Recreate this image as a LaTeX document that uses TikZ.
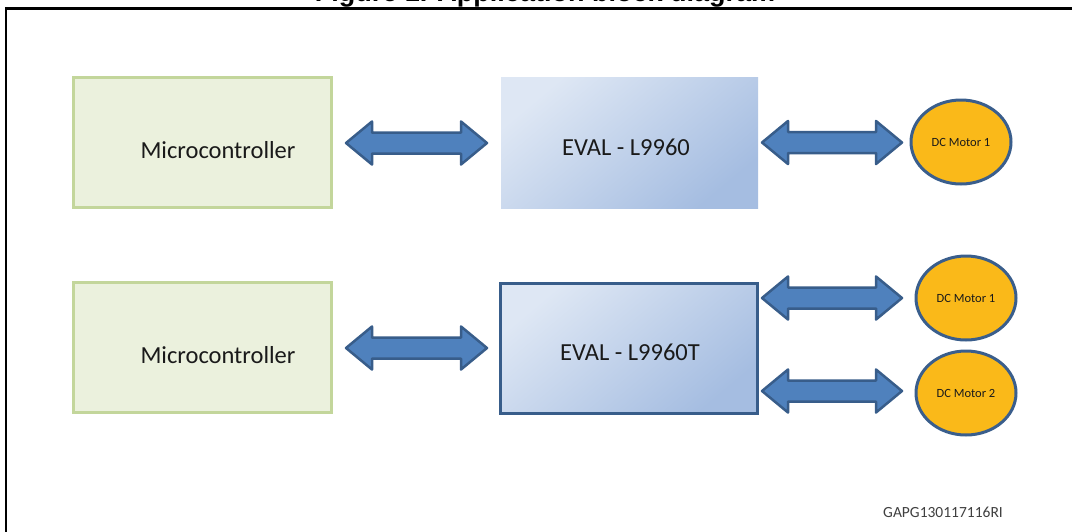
\documentclass[tikz,border=0pt]{standalone}
\usepackage{fontspec}
\setmainfont{Carlito}
\newfontfamily\arialfont{Liberation Sans}
\usetikzlibrary{calc,shapes.geometric}
\definecolor{mcfill}{RGB}{235,241,221}
\definecolor{mcborder}{RGB}{195,214,155}
\definecolor{evlight}{RGB}{222,231,244}
\definecolor{evdark}{RGB}{165,189,225}
\definecolor{evborder}{RGB}{56,93,138}
\definecolor{arrfill}{RGB}{79,129,189}
\definecolor{arrborder}{RGB}{56,93,138}
\definecolor{motfill}{RGB}{250,185,25}
\definecolor{motborder}{RGB}{58,94,140}
\definecolor{txt}{RGB}{26,26,26}
\newcommand\blockarrow[2]{%
  \draw[blockarr] let \p1=(#1), \p2=(#2) in
    (\x1,\y1) -- (\x1+26pt,\y1+21.5pt) -- (\x1+26pt,\y1+10.5pt)
    -- (\x2-26pt,\y1+10.5pt) -- (\x2-26pt,\y1+21.5pt) -- (\x2,\y1)
    -- (\x2-26pt,\y1-21.5pt) -- (\x2-26pt,\y1-10.5pt)
    -- (\x1+26pt,\y1-10.5pt) -- (\x1+26pt,\y1-21.5pt) -- cycle;}
\begin{document}
\begin{tikzpicture}[x=1pt,y=-1pt,
  mcbox/.style={draw=mcborder, line width=3pt, fill=mcfill, inner sep=0pt, outer sep=0pt,
    minimum width=258pt, minimum height=130pt},
  boxlabel/.style={text=txt, inner sep=0pt, font=\fontsize{24.5}{29}\selectfont},
  evbox/.style={shading=axis, top color=evlight, bottom color=evdark, shading angle=40,
    inner sep=0pt, outer sep=0pt, minimum width=257pt, minimum height=131pt},
  motor/.style={ellipse, draw=motborder, line width=3pt, fill=motfill, inner sep=0pt, outer sep=0pt,
    minimum width=100pt, minimum height=84pt, text=txt, font=\fontsize{12.5}{14}\selectfont},
  blockarr/.style={draw=arrborder, fill=arrfill, line width=2.5pt, line join=round},
  frameline/.style={line width=2.5pt, draw=black}]
\useasboundingbox (0,0) rectangle (1072,531);
\clip (0,0) rectangle (1072,531);
\fill[white] (0,0) rectangle (1072,531);
% title (cut off at the top, as in the reference)
\node[anchor=base, inner sep=0pt, font=\arialfont\bfseries\fontsize{27}{30}\selectfont] (title) at (545,1) {Figure 1. Application block diagram};
% frame
\coordinate (fbl) at (6,540);
\coordinate (ftl) at (6,8.5);
\coordinate (ftr) at (1080,8.5);
\draw[frameline] (fbl) -- (ftl) -- (ftr);
% top row
\node[mcbox] (mc1) at (202.5,142.5) {};
\node[boxlabel] (mc1t) at (218,150) {Microcontroller};
\node[evbox] (ev1) at (629.5,142.5) {};
\node[boxlabel] (ev1t) at (626,147) {EVAL - L9960};
\node[motor] (m1) at (961,142) {DC Motor 1};
% bottom row
\node[mcbox] (mc2) at (202.5,347) {};
\node[boxlabel] (mc2t) at (218,355) {Microcontroller};
\node[evbox, draw=evborder, line width=3pt, minimum width=257pt, minimum height=130pt] (ev2) at (629,348.5) {};
\node[boxlabel] (ev2t) at (630,352) {EVAL - L9960T};
\node[motor] (mA) at (966,298) {DC Motor 1};
\node[motor] (mB) at (966,393) {DC Motor 2};
% arrows
\blockarrow{$(mc1.east)+(14.5,0.5)$}{$(ev1.west)+(-14,0.5)$}
\blockarrow{$(ev1.east)+(4,0)$}{$(m1.west)+(-9,0)$}
\blockarrow{$(mc2.east)+(14.5,1)$}{$(ev2.west)+(-13.5,1)$}
\blockarrow{$(ev2.east |- mA.center)+(4.5,0)$}{$(mA.west)+(-14,0)$}
\blockarrow{$(ev2.east |- mB.center)+(4.5,-2)$}{$(mB.west)+(-14,-2)$}
% code
\node[text={rgb,255:red,64;green,64;blue,64}, inner sep=0pt, font=\fontsize{15.5}{18}\selectfont] (code) at (943,512) {GAPG130117116RI};
\end{tikzpicture}
\end{document}
